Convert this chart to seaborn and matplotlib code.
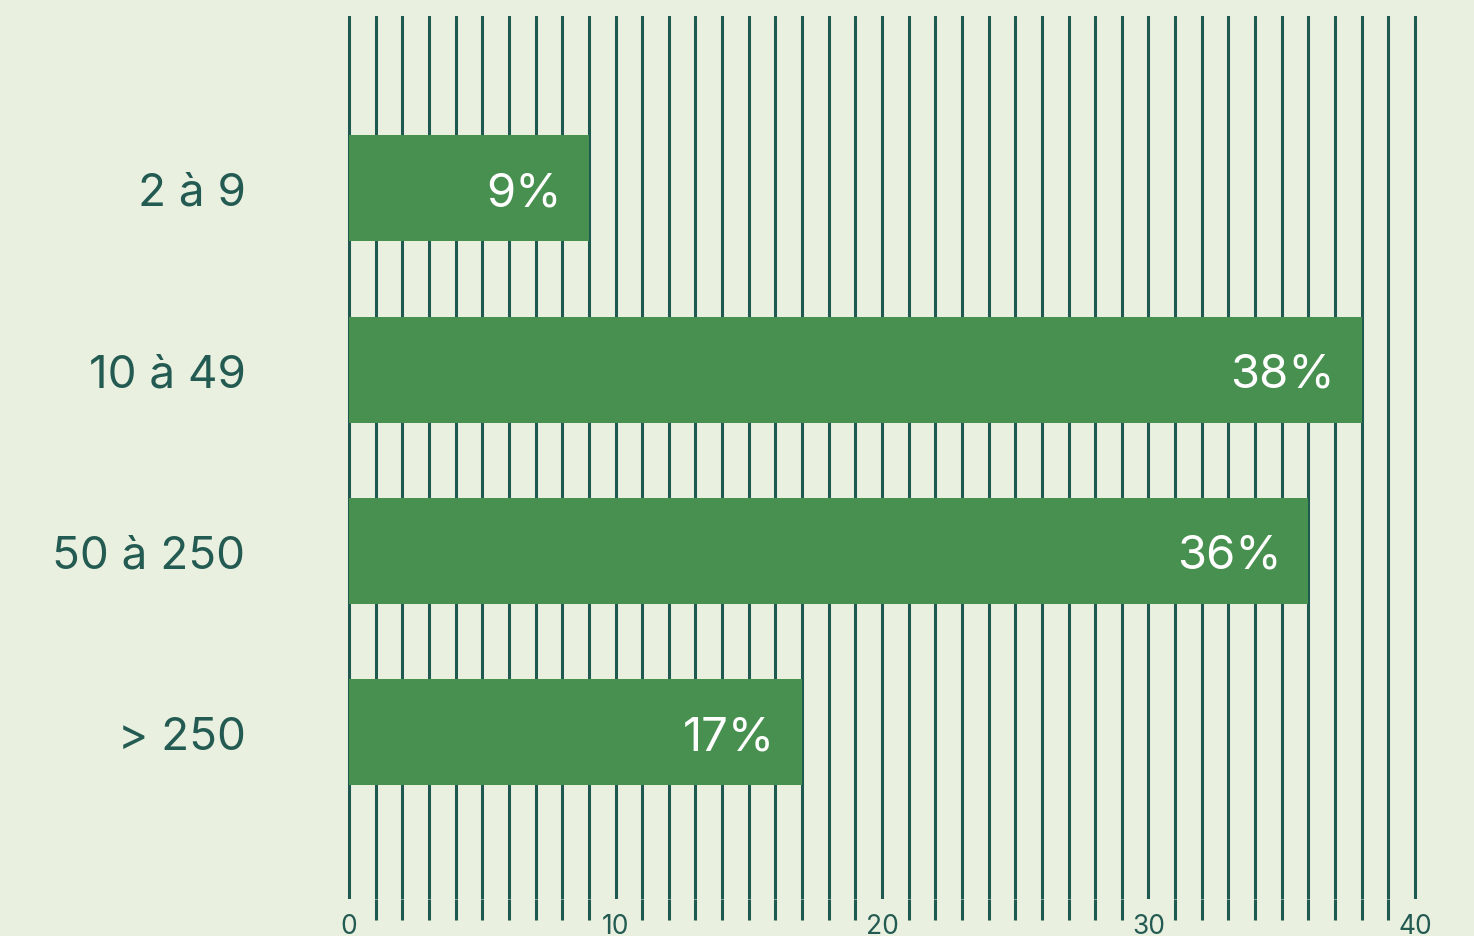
"""Répartition par taille d'entreprise - barres horizontales."""

import matplotlib.pyplot as plt
import pandas as pd
import seaborn as sns

categories = ["2 à 9", "10 à 49", "50 à 250", "> 250"]
values = [9, 38, 36, 17]
value_labels = ["9%", "38%", "36%", "17%"]
major_ticks = [0, 10, 20, 30, 40]
minor_ticks = list(range(0, 41))

BG = "#eaf0e0"
BAR = "#48904f"
LINE = "#1f5a51"
TEXT = "#235b52"


def main():
    df = pd.DataFrame({"cat": categories, "val": values})

    sns.set_style("white")
    plt.rcParams["font.family"] = ["Inter", "DejaVu Sans"]

    fig = plt.figure(figsize=(14.74, 9.37), dpi=100, facecolor=BG)
    ax = fig.add_axes([335.7 / 1474, 37 / 937, (1428.3 - 335.7) / 1474, 883 / 937])
    ax.set_facecolor(BG)

    sns.barplot(data=df, x="val", y="cat", orient="h", color=BAR,
                saturation=1, width=0.585, linewidth=0, edgecolor=BAR,
                ax=ax, zorder=3)

    ax.set_xlim(-0.5, 40.5)
    ax.set_ylim(3.92, -0.95)

    ax.set_xticks(major_ticks)
    ax.set_xticks(minor_ticks, minor=True)
    ax.set_xticklabels([str(t) for t in major_ticks])
    ax.grid(True, axis="x", which="both", color=LINE, linewidth=2.2, zorder=0)
    ax.set_axisbelow(True)

    ax.tick_params(axis="x", which="major", bottom=True, length=0, pad=10,
                   labelsize=19, labelcolor=TEXT)
    ax.tick_params(axis="x", which="minor", bottom=True, length=15, width=2.2,
                   color=LINE, direction="out")
    ax.tick_params(axis="y", length=0, pad=65, labelsize=33, labelcolor=TEXT)

    for s in ax.spines.values():
        s.set_visible(False)
    ax.set_xlabel("")
    ax.set_ylabel("")

    for i, (v, lab) in enumerate(zip(values, value_labels)):
        ax.text(v - 1.0, i, lab, ha="right", va="center_baseline", color="white",
                fontsize=34, zorder=4)

    fig.savefig("out.png", dpi=100, facecolor=BG)
    plt.close(fig)


if __name__ == "__main__":
    main()
